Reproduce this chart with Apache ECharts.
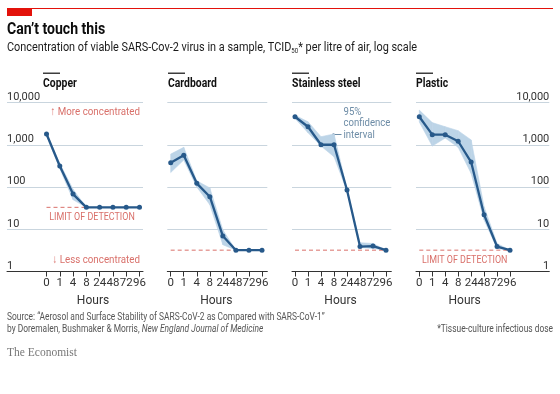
<!DOCTYPE html>
<html><head><meta charset="utf-8">
<script src="https://cdn.jsdelivr.net/npm/echarts@6/dist/echarts.min.js"></script>
<style>html,body{margin:0;padding:0;background:#fff}#c{width:560px;height:394px}</style>
</head><body><div id="c"></div>
<script>
// ---- data ----
const hours = ['0','1','4','8','24','48','72','96'];
const yTicks = [1, 10, 100, 1000, 10000];
const yTickLabels = ['1', '10', '100', '1,000', '10,000'];

const copper     = [1800, 314, 68, 33, 33, 33, 33, 33];
const copperLo   = [1650, 270, 50, 33, 33, 33, 33, 33];
const copperHi   = [1950, 360, 88, 33, 33, 33, 33, 33];
const copperLimit = [33, 33, 33, 33, null, null, null, null];

const cardboard   = [376, 562, 122, 59, 6.9, 3.2, 3.2, 3.2];
const cardboardLo = [220, 435, 100, 38, 4.3, 3.2, 3.2, 3.2];
const cardboardHi = [600, 870, 140, 95, 9.6, 3.2, 3.2, 3.2];
const cardboardLimit = [3.2, 3.2, 3.2, 3.2, 3.2, 3.2, 3.2, 3.2];

const steel   = [4600, 2670, 1000, 1000, 85, 3.9, 4.0, 3.2];
const steelLo = [4200, 1930, 930, 520, 80, 3.7, 3.5, 3.2];
const steelHi = [5000, 3500, 1550, 1800, 90, 4.8, 4.6, 3.2];
const steelLimit = [3.2, 3.2, 3.2, 3.2, 3.2, 3.2, 3.2, 3.2];

const plastic   = [4600, 1730, 1730, 1210, 390, 22, 3.9, 3.2];
const plasticLo = [3450, 930, 1440, 870, 210, 16.6, 3.5, 3.2];
const plasticHi = [6600, 3340, 2670, 2150, 1300, 34, 4.6, 3.2];
const plasticLimit = [3.2, 3.2, 3.2, 3.2, 3.2, 3.2, 3.2, 3.2];

// ---- layout / style ----
const FONT = "Roboto, sans-serif";
const LINE = '#27598a', BAND = '#bcd4e7', GRIDC = '#c9d5de', RED = '#d9706a', DARK = '#333333';
const TOP = 102.5, H = 169;

const panels = [
  {name:'Copper', v:copper, lo:copperLo, hi:copperHi, lim:copperLimit,
   wide:[7,136], narrow:[46.5,93], labels:'left', tx:43},
  {name:'Cardboard', v:cardboard, lo:cardboardLo, hi:cardboardHi, lim:cardboardLimit,
   wide:[167.3,100], narrow:[170.7,91.3], labels:null, tx:168},
  {name:'Stainless steel', v:steel, lo:steelLo, hi:steelHi, lim:steelLimit,
   wide:[292,99.3], narrow:[295,91], labels:null, tx:292},
  {name:'Plastic', v:plastic, lo:plasticLo, hi:plasticHi, lim:plasticLimit,
   wide:[416,133.3], narrow:[419.3,90.7], labels:'right', tx:416}
];

const grid = [], xAxis = [], yAxis = [], series = [], graphic = [];
const fmtY = v => { const i = yTicks.indexOf(Math.round(v)); return i >= 0 ? yTickLabels[i] : ''; };

function txt(x, y, text, font, fill, align, sx, extra) {
  const style = Object.assign({text, font, fill, align: align || 'left', verticalAlign: 'middle'}, extra || {});
  return {type:'text', x, y, scaleX: sx || 1, style};
}

panels.forEach((p, k) => {
  const gw = 2*k, gn = 2*k+1;
  grid.push({left:p.wide[0], width:p.wide[1], top:TOP, height:H});
  grid.push({left:p.narrow[0], width:p.narrow[1], top:TOP, height:H});
  xAxis.push({gridIndex:gw, type:'value', min:0, max:1, axisLine:{show:true, lineStyle:{color:DARK, width:1}},
    axisTick:{show:false}, axisLabel:{show:false}, splitLine:{show:false}});
  yAxis.push({gridIndex:gw, type:'log', logBase:10, min:1, max:10000,
    position: p.labels === 'right' ? 'right' : 'left',
    axisLine:{show:false}, axisTick:{show:false},
    splitLine:{show:true, lineStyle:{color:GRIDC, width:1}},
    axisLabel:{show: !!p.labels, inside:true, margin:0, formatter:fmtY,
      align: p.labels === 'right' ? 'right' : 'left', verticalAlign:'bottom',
      color:DARK, fontSize:11, fontFamily:FONT}});
  xAxis.push({gridIndex:gn, type:'category', data:hours, boundaryGap:false,
    axisLine:{show:true, lineStyle:{color:DARK, width:1}},
    axisTick:{show:true, length:5, lineStyle:{color:DARK, width:1}},
    axisLabel:{interval:0, margin:6, color:DARK, fontSize:11.5, fontFamily:FONT, hideOverlap:false},
    splitLine:{show:false},
    name:'Hours', nameLocation:'middle', nameGap:23,
    nameTextStyle:{color:DARK, fontSize:12, fontFamily:FONT}});
  yAxis.push({gridIndex:gn, type:'log', logBase:10, min:1, max:10000, show:false});

  const lo = p.lo, hi = p.hi;
  series.push({type:'custom', xAxisIndex:gn, yAxisIndex:gn, silent:true, z:1,
    data: hours.map((h, i) => [i, lo[i], hi[i]]),
    renderItem: (params, api) => {
      const i = params.dataIndex;
      if (i >= hours.length - 1) return null;
      const pts = [api.coord([i, lo[i]]), api.coord([i, hi[i]]), api.coord([i+1, hi[i+1]]), api.coord([i+1, lo[i+1]])];
      return {type:'polygon', shape:{points:pts}, style:{fill:BAND, stroke:BAND, lineWidth:0.6}};
    }});
  series.push({type:'line', xAxisIndex:gn, yAxisIndex:gn, data:p.lim, symbol:'none', z:2, silent:true,
    lineStyle:{color:RED, width:1, type:[4,3]}});
  series.push({type:'line', xAxisIndex:gn, yAxisIndex:gn, data:p.v, symbol:'circle', symbolSize:5, z:3,
    lineStyle:{color:LINE, width:2.3}, itemStyle:{color:LINE}});

  graphic.push({type:'rect', shape:{x:p.tx, y:72.5, width:17, height:1.5}, style:{fill:'#3d3d3d'}});
  graphic.push(txt(p.tx, 83.5, p.name, "bold 13px " + FONT, '#111', 'left', 0.8));
});

// header
graphic.push({type:'rect', shape:{x:7, y:8, width:546, height:1}, style:{fill:'#e3120b'}});
graphic.push({type:'rect', shape:{x:7, y:8, width:25, height:8}, style:{fill:'#e3120b'}});
graphic.push(txt(7, 30, 'Can\u2019t touch this', "bold 16px " + FONT, '#0d0d0d', 'left', 0.88));
graphic.push(txt(7, 48, 'Concentration of viable SARS-Cov-2 virus in a sample, TCID{s|50}* per litre of air, log scale',
  "12.5px " + FONT, '#1a1a1a', 'left', 0.87,
  {rich:{s:{fontSize:7, fontFamily:FONT, fill:'#1a1a1a', verticalAlign:'bottom', padding:[6,0,0,0]}}}));

// annotations
graphic.push(txt(140, 112.5, '\u2191 More concentrated', "11.5px " + FONT, RED, 'right', 0.85));
graphic.push(txt(140, 260, '\u2193 Less concentrated', "11.5px " + FONT, RED, 'right', 0.85));
graphic.push(txt(92, 217.5, 'LIMIT OF DETECTION', "10.5px " + FONT, RED, 'center', 0.85));
graphic.push(txt(464.7, 260.7, 'LIMIT OF DETECTION', "10.5px " + FONT, RED, 'center', 0.85));
const CI = '#6d8ca6';
graphic.push(txt(343.5, 112, '95%', "11px " + FONT, CI, 'left', 0.87));
graphic.push(txt(343.5, 123.5, 'confidence', "11px " + FONT, CI, 'left', 0.87));
graphic.push(txt(343.5, 135, 'interval', "11px " + FONT, CI, 'left', 0.87));
graphic.push({type:'line', shape:{x1:333.5, y1:134.5, x2:341.5, y2:134.5}, style:{stroke:CI, lineWidth:1}});
graphic.push({type:'circle', shape:{cx:333.5, cy:134.5, r:1.2}, style:{fill:CI}});

// footer
graphic.push(txt(7, 317, 'Source: \u201CAerosol and Surface Stability of SARS-CoV-2 as Compared with SARS-CoV-1\u201D', "10.5px " + FONT, '#555', 'left', 0.8));
graphic.push(txt(7, 329.5, 'by Doremalen, Bushmaker & Morris, {i|New England Journal of Medicine}', "10.5px " + FONT, '#555', 'left', 0.8,
  {rich:{i:{fontStyle:'italic', fontSize:10.5, fontFamily:FONT, fill:'#555'}}}));
graphic.push(txt(553, 329.5, '*Tissue-culture infectious dose', "10.5px " + FONT, '#555', 'right', 0.8));
graphic.push(txt(7, 353, 'The Economist', "11.5px 'Liberation Serif','DejaVu Serif',serif", '#777', 'left', 1));

const chart = echarts.init(document.getElementById('c'), null, {renderer:'canvas'});
chart.setOption({animation:false, backgroundColor:'#fff', grid, xAxis, yAxis, series, graphic});
</script></body></html>
